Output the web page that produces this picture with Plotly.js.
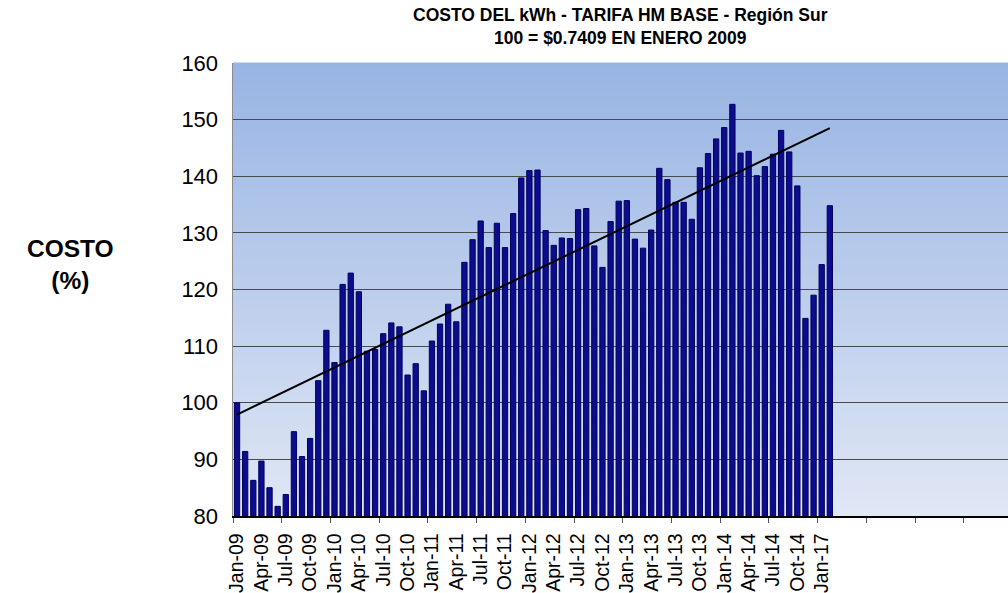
<!DOCTYPE html>
<html>
<head>
<meta charset="utf-8">
<script src="https://cdn.plot.ly/plotly-3.0.1.min.js"></script>
<style>
  html, body { margin: 0; padding: 0; background: #ffffff; }
  #chart { width: 1008px; height: 593px; }
</style>
</head>
<body>
<div id="chart"></div>
<script>
// ---- Data ----
var months = [
  "Jan-09","Feb-09","Mar-09","Apr-09","May-09","Jun-09","Jul-09","Aug-09","Sep-09","Oct-09","Nov-09","Dec-09",
  "Jan-10","Feb-10","Mar-10","Apr-10","May-10","Jun-10","Jul-10","Aug-10","Sep-10","Oct-10","Nov-10","Dec-10",
  "Jan-11","Feb-11","Mar-11","Apr-11","May-11","Jun-11","Jul-11","Aug-11","Sep-11","Oct-11","Nov-11","Dec-11",
  "Jan-12","Feb-12","Mar-12","Apr-12","May-12","Jun-12","Jul-12","Aug-12","Sep-12","Oct-12","Nov-12","Dec-12",
  "Jan-13","Feb-13","Mar-13","Apr-13","May-13","Jun-13","Jul-13","Aug-13","Sep-13","Oct-13","Nov-13","Dec-13",
  "Jan-14","Feb-14","Mar-14","Apr-14","May-14","Jun-14","Jul-14","Aug-14","Sep-14","Oct-14","Nov-14","Dec-14",
  "Jan-17","Feb-17"
];
var costo = [
  100.0, 91.4, 86.3, 89.7, 85.0, 81.7, 83.8, 94.9, 90.5, 93.7, 103.9, 112.8,
  107.1, 120.9, 122.9, 119.6, 109.1, 109.4, 112.2, 114.1, 113.4, 104.9, 106.9, 102.1,
  110.9, 113.9, 117.4, 114.3, 124.8, 128.8, 132.1, 127.4, 131.7, 127.4, 133.4, 139.7,
  141.0, 141.1, 130.4, 127.8, 129.1, 129.0, 134.1, 134.3, 127.7, 123.9, 132.0, 135.6,
  135.7, 128.9, 127.3, 130.5, 141.4, 139.4, 135.4, 135.4, 132.4, 141.5, 144.0, 146.6,
  148.6, 152.7, 144.1, 144.4, 140.1, 141.7, 143.9, 148.1, 144.3, 138.3, 114.9, 119.0,
  124.4, 134.8
];
// linear trend line end points (as drawn in the reference)
var trendValues = [97.9, 148.5];
var yTicks = [80, 90, 100, 110, 120, 130, 140, 150, 160];
var titleLines = ['COSTO DEL kWh - TARIFA HM BASE - Región Sur', '100 = $0.7409 EN ENERO 2009'];

// ---- Build ----
var idx = months.map(function (m, i) { return i; });
var tickIdx = idx.filter(function (i) { return i % 3 === 0; });
var tickTxt = tickIdx.map(function (i) { return months[i]; });

var bars = {
  type: 'bar',
  x: idx,
  y: costo,
  text: months,
  textposition: 'none',
  hoverinfo: 'text+y',
  marker: { color: '#0c0c8c', line: { color: '#00005e', width: 1 } },
  showlegend: false
};
var trend = {
  type: 'scatter',
  mode: 'lines',
  x: [idx[0], idx[idx.length - 1]],
  y: trendValues,
  line: { color: '#000000', width: 2 },
  hoverinfo: 'skip',
  showlegend: false
};

// gradient background stripes
var shapes = [];
var N = 80;
var gTop = [152, 180, 227], gBot = [224, 231, 245];
for (var k = 0; k < N; k++) {
  var t = (k + 0.5) / N;
  var c = gTop.map(function (v, j) { return Math.round(v + (gBot[j] - v) * t); });
  shapes.push({
    type: 'rect', xref: 'paper', yref: 'paper', layer: 'below',
    x0: 0, x1: 1, y0: 1 - (k + 1) / N - 0.001, y1: 1 - k / N + 0.001,
    fillcolor: 'rgb(' + c.join(',') + ')', line: { width: 0 }
  });
}

var plotTop = 63, plotBottom = 516, plotH = plotBottom - plotTop;
function paperY(px) { return (plotBottom - px) / plotH; }
var titleFont = { size: 17.5, color: '#000000', family: 'Liberation Sans, Arial, sans-serif' };

var layout = {
  width: 1008, height: 593,
  margin: { l: 233, r: 0, t: plotTop, b: 593 - plotBottom, pad: 0 },
  paper_bgcolor: '#ffffff',
  plot_bgcolor: 'rgba(0,0,0,0)',
  font: { family: 'Liberation Sans, Arial, sans-serif', color: '#000000' },
  bargap: 0.35,
  xaxis: {
    range: [-0.5, -0.5 + (1008 - 233) / 8.12],
    tickmode: 'array', tickvals: tickIdx, ticktext: tickTxt,
    tickangle: -90,
    tickfont: { size: 19.5, color: '#000000' },
    ticks: '', ticklabelstandoff: 8,
    minor: { tickmode: 'linear', tick0: -0.5, dtick: 6, ticks: 'outside', ticklen: 5, tickcolor: '#555555', tickwidth: 1, showgrid: false },
    showgrid: false, zeroline: false,
    showline: true, linecolor: '#000000', linewidth: 1.5,
    fixedrange: true
  },
  yaxis: {
    range: [80, 160],
    tickmode: 'array', tickvals: yTicks,
    tickfont: { size: 22, color: '#000000' },
    showgrid: true, gridcolor: '#4a4a4a', gridwidth: 1,
    zeroline: false,
    showline: true, linecolor: '#8c8c8c', linewidth: 1.5,
    ticks: '', ticklabelstandoff: 9,
    fixedrange: true
  },
  shapes: shapes,
  annotations: [
    {
      xref: 'paper', yref: 'paper', x: 0.5, y: paperY(15), xanchor: 'center', yanchor: 'middle',
      text: '<b>' + titleLines[0] + '</b>', showarrow: false, font: titleFont
    },
    {
      xref: 'paper', yref: 'paper', x: 0.5, y: paperY(38), xanchor: 'center', yanchor: 'middle',
      text: '<b>' + titleLines[1] + '</b>', showarrow: false, font: titleFont
    },
    {
      xref: 'paper', yref: 'paper', x: -0.21, y: paperY(264), xanchor: 'center', yanchor: 'middle',
      text: '<b>COSTO<br>(%)</b>', showarrow: false,
      font: { size: 24.5, color: '#000000', family: 'Liberation Sans, Arial, sans-serif' }
    }
  ]
};

Plotly.newPlot('chart', [bars, trend], layout, { displayModeBar: false, staticPlot: true });
</script>
</body>
</html>
